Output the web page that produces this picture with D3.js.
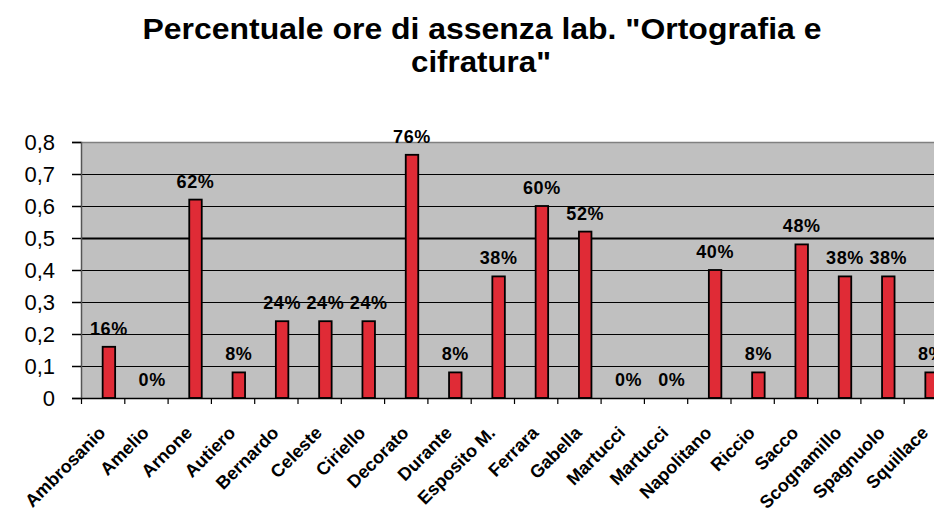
<!DOCTYPE html>
<html lang="it">
<head>
    <meta charset="UTF-8">
    <title>Percentuale ore di assenza</title>
    <script src="https://d3js.org/d3.v7.min.js"></script>
    <style>
        body { margin: 0; background: #fff; }
        svg text { font-family: "Liberation Sans", Arial, sans-serif; fill: #000; }
        .title { font-size: 29px; font-weight: bold; }
        .ytick { font-size: 22px; }
        .xlab { font-size: 18px; font-weight: bold; }
        .val { font-size: 18px; font-weight: bold; letter-spacing: 0.6px; }
    </style>
</head>
<body>
<svg id="chart" width="934" height="514"></svg>
<script>
    const names = ["Ambrosanio", "Amelio", "Arnone", "Autiero", "Bernardo", "Celeste", "Ciriello",
        "Decorato", "Durante", "Esposito M.", "Ferrara", "Gabella", "Martucci", "Martucci",
        "Napolitano", "Riccio", "Sacco", "Scognamillo", "Spagnuolo", "Squillace"];
    const values = [0.16, 0, 0.62, 0.08, 0.24, 0.24, 0.24, 0.76, 0.08, 0.38, 0.60, 0.52, 0, 0,
        0.40, 0.08, 0.48, 0.38, 0.38, 0.08];
    const yTicks = [0, 0.1, 0.2, 0.3, 0.4, 0.5, 0.6, 0.7, 0.8];
    const titleLines = ["Percentuale ore di assenza lab. \"Ortografia e", "cifratura\""];

    const svg = d3.select("#chart");
    const plotLeft = 81, plotTop = 142, plotBottom = 398, band = 43.3;
    const keys = names.map((n, i) => i);

    const x = d3.scaleBand().domain(keys).range([plotLeft, plotLeft + band * names.length]);
    const y = d3.scaleLinear().domain([0, 0.8]).range([plotBottom, plotTop]);

    // title
    svg.append("text").attr("class", "title").attr("x", 482).attr("y", 39)
        .attr("text-anchor", "middle").attr("textLength", 679).attr("lengthAdjust", "spacingAndGlyphs")
        .text(titleLines[0]);
    svg.append("text").attr("class", "title").attr("x", 481).attr("y", 72)
        .attr("text-anchor", "middle").attr("textLength", 140).attr("lengthAdjust", "spacingAndGlyphs")
        .text(titleLines[1]);

    // plot area
    svg.append("rect").attr("x", plotLeft).attr("y", plotTop)
        .attr("width", band * names.length).attr("height", plotBottom - plotTop)
        .attr("fill", "#c0c0c0");
    svg.append("line").attr("x1", plotLeft).attr("x2", 934).attr("y1", plotTop + 0.5).attr("y2", plotTop + 0.5)
        .attr("stroke", "#808080").attr("stroke-width", 1.5);

    // gridlines
    svg.append("g").selectAll("line").data(yTicks.filter(d => d > 0 && d < 0.8)).enter().append("line")
        .attr("x1", plotLeft).attr("x2", 934)
        .attr("y1", d => Math.round(y(d)) + 0.5).attr("y2", d => Math.round(y(d)) + 0.5)
        .attr("stroke", "#000").attr("stroke-width", d => d === 0.5 ? 2 : 1.2);

    // y axis
    const yAxis = svg.append("g").attr("transform", `translate(${plotLeft},0)`)
        .call(d3.axisLeft(y).tickValues(yTicks).tickSize(9).tickPadding(17)
            .tickFormat(d => d === 0 ? "0" : d3.format(".1f")(d).replace(".", ",")));
    yAxis.select(".domain").attr("stroke", "#555").attr("stroke-width", 1.5);
    yAxis.selectAll(".tick line").attr("stroke", "#000").attr("stroke-width", 1.5);
    yAxis.selectAll("text").attr("class", "ytick").attr("font-family", null).attr("font-size", null)
        .attr("dy", "0.36em");

    // bars (occupy right half of each category slot)
    const barW = 12.5;
    const bx = i => x(i) + x.bandwidth() / 2;
    svg.append("g").selectAll("rect").data(values).enter().append("rect")
        .attr("x", (d, i) => bx(i)).attr("y", d => y(d))
        .attr("width", barW).attr("height", d => plotBottom - y(d))
        .attr("fill", "#e02b36").attr("stroke", "#000").attr("stroke-width", 1.8);

    // value labels
    svg.append("g").selectAll("text").data(values).enter().append("text")
        .attr("class", "val").attr("text-anchor", "middle")
        .attr("x", (d, i) => bx(i) + barW / 2).attr("y", d => y(d) - 12)
        .text(d => Math.round(d * 100) + "%");

    // x axis
    const xAxis = svg.append("g").attr("transform", `translate(0,${plotBottom})`)
        .call(d3.axisBottom(x).tickSize(0).tickFormat(""));
    xAxis.select(".domain").attr("stroke", "#000").attr("stroke-width", 1.5);
    svg.append("g").selectAll("line").data(keys).enter().append("line")
        .attr("x1", i => x(i) + 0.5).attr("x2", i => x(i) + 0.5)
        .attr("y1", plotBottom).attr("y2", plotBottom + 6)
        .attr("stroke", "#000").attr("stroke-width", 1.2);

    svg.append("g").selectAll("text").data(names).enter().append("text")
        .attr("class", "xlab").attr("text-anchor", "end")
        .attr("transform", (d, i) => `translate(${x(i) + x.bandwidth() / 2 + 4},${plotBottom + 36}) rotate(-45)`)
        .text(d => d);
</script>
</body>
</html>
